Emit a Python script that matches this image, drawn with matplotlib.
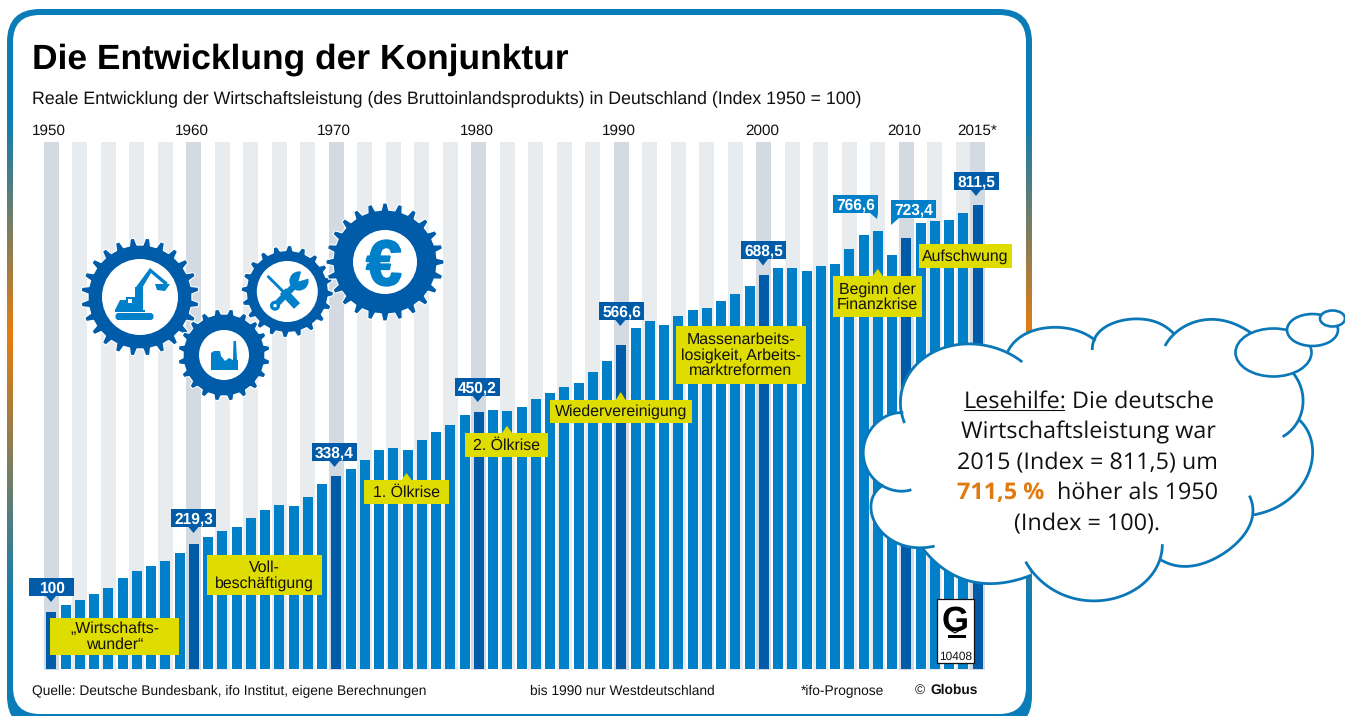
#!/usr/bin/env python3
"""Die Entwicklung der Konjunktur - Globus Grafik 10408 nachgebaut."""

import numpy as np
import matplotlib
matplotlib.use('Agg')
import matplotlib.pyplot as plt
import matplotlib.patheffects as pe
from matplotlib.colors import LinearSegmentedColormap
from matplotlib.patches import Circle, Ellipse, FancyBboxPatch, Polygon, Rectangle

plt.rcParams['font.family'] = ['Liberation Sans', 'DejaVu Sans']
plt.rcParams['text.hinting'] = 'none'

W, H = 1345, 716

# Daten
years = list(range(1950, 2016))
index_values = [
    100, 112, 120.7, 131, 141.7, 159, 171.4, 180, 189, 203,
    219.3, 231, 241, 248, 264, 278, 287, 285, 301, 323.5,
    338.4, 350, 365.5, 383, 386.5, 383, 400.5, 414.5, 427, 444,
    450.2, 453, 451, 458, 472, 482.7, 493, 500, 519, 538.6,
    566.6, 596, 608.6, 601.6, 617, 628, 631, 643.6, 656, 670,
    688.5, 701, 701, 696, 705, 708, 734.5, 759, 766.6, 723.4,
    754, 780, 783.5, 785, 797.5, 811.5,
]
tick_years = [1950, 1960, 1970, 1980, 1990, 2000, 2010, 2015]
tick_labels = ['1950', '1960', '1970', '1980', '1990', '2000', '2010', '2015*']
highlight_years = [1950, 1960, 1970, 1980, 1990, 2000, 2010, 2015]

title = 'Die Entwicklung der Konjunktur'
subtitle = ('Reale Entwicklung der Wirtschaftsleistung (des Bruttoinlandsprodukts) '
            'in Deutschland (Index 1950 = 100)')

# Farben
DARK = '#005ca9'
BLUE = '#0080c9'
YELLOW = '#dfdc00'
STRIPE_DARK = '#d3dae2'
STRIPE_LIGHT = '#e9ecef'
CLOUD = '#0a78b8'
ORANGE = '#e07b10'

# Pixelskala der Balken
PX_PER_YEAR = 14.25
X_1950 = 51.3
PX_PER_UNIT = 0.5718
Y_ZERO = 669


def add_frame(ax):
    """Rahmen mit Farbverlauf: Bild hinter abgerundetem Rechteck"""
    outer = FancyBboxPatch((7, 9), 1025, 720, boxstyle='round,pad=0,rounding_size=33',
                           fc='none', ec='none')
    ax.add_patch(outer)
    cmap = LinearSegmentedColormap.from_list('frame', [
        (0.0, '#0a7db8'), (115 / 716, '#0a7db8'), (335 / 716, '#e67e0e'),
        (610 / 716, '#0a7db8'), (1.0, '#0a7db8')])
    grad = np.linspace(0, 1, 716).reshape(-1, 1)
    im = ax.imshow(grad, cmap=cmap, extent=(0, W, H, 0), aspect='auto', origin='upper')
    im.set_clip_path(outer)
    ax.add_patch(FancyBboxPatch((13, 15), 1013, 699, boxstyle='round,pad=0,rounding_size=27',
                                fc='white', ec='none'))
    ax.set_xlim(0, W)
    ax.set_ylim(H, 0)


def plot_bars(fig):
    left, right, top, bottom = 40, 990, 142, 670
    ax = fig.add_axes([left / W, 1 - bottom / H, (right - left) / W, (bottom - top) / H])
    ax.patch.set_visible(False)
    ax.set_xlim(1950 + (left - X_1950) / PX_PER_YEAR, 1950 + (right - X_1950) / PX_PER_YEAR)
    y_min = (Y_ZERO - bottom) / PX_PER_UNIT
    y_max = (Y_ZERO - top) / PX_PER_UNIT
    ax.set_ylim(y_min, y_max)

    # Streifen im Hintergrund
    for year in years:
        if year in highlight_years:
            color = STRIPE_DARK
        elif year % 2 == 0:
            color = STRIPE_LIGHT
        else:
            continue
        ax.bar(year, y_max - y_min, bottom=y_min, width=15 / PX_PER_YEAR, color=color, zorder=1)

    colors = [DARK if y in highlight_years else BLUE for y in years]
    ax.bar(years, index_values, width=10 / PX_PER_YEAR, color=colors, zorder=2)

    for side in ax.spines.values():
        side.set_visible(False)
    ax.set_yticks([])
    ax.set_xticks([y - 0.14 if y != 2015 else y for y in tick_years])
    ax.set_xticklabels(tick_labels, fontsize=11, color='#111111')
    ax.tick_params(axis='x', bottom=False, top=False, labelbottom=False, labeltop=True, pad=-0.3)
    return ax


def value_label(ax, text, x0, y0, tip, color=DARK, corner=None):
    """Wertefeld mit Spitze, Koordinaten in Pixeln"""
    x1, y1 = x0 + 45, y0 + 18
    ax.add_patch(Rectangle((x0, y0), 45, 18, fc=color, ec='none', zorder=5))
    if corner == 'right':
        pts = [(x1 - 8, y1), (x1, y1), tip]
    elif corner == 'left':
        pts = [(x0, y1), (x0 + 8, y1), tip]
    else:
        pts = [(tip[0] - 5, y1), (tip[0] + 5, y1), tip]
    ax.add_patch(Polygon(pts, fc=color, ec='none', zorder=5))
    ax.text((x0 + x1) / 2, y1 - 3.5, text, color='white', fontsize=11.2, fontweight='bold',
            ha='center', va='baseline', zorder=6)


def note(ax, text, x0, y0, x1, y1, tip=None):
    """Gelbes Textfeld"""
    ax.add_patch(Rectangle((x0, y0), x1 - x0, y1 - y0, fc=YELLOW, ec='none', zorder=5))
    if tip is not None:
        ax.add_patch(Polygon([(tip[0] - 5, y0), (tip[0] + 5, y0), tip], fc=YELLOW, ec='none', zorder=5))
    ax.text((x0 + x1) / 2, (y0 + y1) / 2 + 0.5, text, color='#111111', fontsize=11.4,
            ha='center', va='center', linespacing=1.06, zorder=6)


def gear(ax, cx, cy, tip_r, root_r, hole_r, teeth, phase=0.0):
    """Zahnrad als Polygon"""
    pts = []
    step = 2 * np.pi / teeth
    for i in range(teeth):
        a = phase + i * step
        for da, r in [(-0.27, root_r), (-0.13, tip_r), (0.13, tip_r), (0.27, root_r)]:
            ang = a + da * step
            pts.append((cx + r * np.cos(ang), cy + r * np.sin(ang)))
    ax.add_patch(Polygon(pts, fc=DARK, ec='white', lw=0.8, zorder=3))
    ax.add_patch(Circle((cx, cy), hole_r, fc='white', ec='none', zorder=3.1))


def draw_icons(ax):
    gear(ax, 140, 297, 59, 52, 38, 24, 0.13)
    gear(ax, 224, 355, 46, 41, 25, 20, 0.16)
    gear(ax, 287.3, 291.5, 46, 41, 30.5, 20, 0.05)
    gear(ax, 385, 262, 59, 52, 32, 24, 0.0)

    # Bagger
    ax.add_patch(FancyBboxPatch((115.5, 313), 38, 7, boxstyle='round,pad=0,rounding_size=3',
                                fc=BLUE, ec='none', zorder=4))
    ax.add_patch(Polygon([(115, 310), (120, 300), (126, 300), (126, 297), (135, 297), (135, 287),
                          (143, 287), (143, 310)], fc=BLUE, ec='none', zorder=4))
    ax.add_patch(Polygon([(136, 287), (150, 268), (168, 283), (165, 285), (151, 273), (141, 290)],
                         fc=BLUE, ec='none', zorder=4))
    ax.add_patch(Polygon([(155, 284), (170, 284), (165, 291), (157, 290)], fc=BLUE, ec='none', zorder=4))
    ax.add_patch(Rectangle((128, 299), 4, 4, fc='white', ec='none', zorder=4.1))
    ax.add_patch(Rectangle((115, 310), 30, 2, fc=BLUE, ec='none', zorder=4))

    # Fabrik
    ax.add_patch(Polygon([(211, 370), (211, 353), (214, 351), (220, 351), (221, 356), (225, 361),
                          (229, 358), (233, 360), (233.5, 341), (236, 341), (237, 360), (238, 360),
                          (238, 370)], fc=BLUE, ec='none', zorder=4))

    # Schraubenzieher und Schluessel
    ax.plot([268.3, 283.3], [276.7, 291.7], color=BLUE, lw=2.1, solid_capstyle='round', zorder=4)
    ax.plot([283, 297], [291, 306], color=BLUE, lw=6, solid_capstyle='butt', zorder=4)
    ax.plot([275, 296.7], [305.7, 283.3], color=BLUE, lw=4.6, solid_capstyle='butt', zorder=4.2)
    ax.add_patch(Circle((275, 305.7), 5, fc=BLUE, ec='none', zorder=4.2))
    ax.add_patch(Circle((275, 305.7), 1.7, fc='white', ec='none', zorder=4.3))
    ax.add_patch(Circle((299, 281), 9.6, fc=BLUE, ec='none', zorder=4.2))
    ax.add_patch(Polygon([(298.5, 281.5), (302, 268), (314, 277)], fc='white', ec='none', zorder=4.3))

    # Euro
    ax.text(384, 285, '€', color=BLUE, fontsize=46, fontweight='bold', ha='center', va='baseline',
            path_effects=[pe.withStroke(linewidth=1.5, foreground=BLUE)], zorder=4)


def smooth(points, n=60):
    p = np.array(points, dtype=float)
    seg = np.hypot(*np.diff(p, axis=0).T)
    t = np.concatenate([[0], np.cumsum(seg)]) / seg.sum()
    deg = min(4, len(p) - 1)
    tt = np.linspace(0, 1, n)
    return np.column_stack([np.polyval(np.polyfit(t, p[:, 0], deg), tt),
                            np.polyval(np.polyfit(t, p[:, 1], deg), tt)])


def draw_cloud(ax):
    lobes = [
        [(193, 398), (183, 340), (215, 235), (300, 178), (400, 165), (490, 180), (547, 217)],
        [(503, 185), (560, 130), (650, 112), (720, 125), (767, 152)],
        [(757, 180), (770, 135), (830, 95), (900, 88), (960, 100), (1000, 130)],
        [(975, 168), (1010, 125), (1070, 95), (1130, 88), (1190, 105), (1235, 130)],
        [(1360, 250), (1385, 300), (1388, 350), (1370, 400), (1328, 440)],
        [(1378, 390), (1410, 440), (1418, 500), (1395, 570), (1330, 640), (1238, 675)],
        [(1228, 617), (1238, 680), (1215, 730), (1150, 790), (1060, 828), (1000, 825), (960, 808)],
        [(967, 763), (955, 820), (900, 890), (820, 925), (750, 932), (670, 915), (600, 870), (557, 815)],
        [(575, 855), (510, 875), (440, 880), (350, 860), (285, 815), (250, 778)],
        [(284, 768), (220, 773), (150, 745), (105, 700), (92, 660), (100, 620), (130, 585)],
        [(214, 600), (170, 600), (120, 585), (80, 535), (70, 480), (90, 420), (130, 385), (190, 368)],
    ]
    curves = [smooth([(840 + x / 3, 290 + y / 3) for x, y in lobe]) for lobe in lobes]
    ax.add_patch(Polygon(np.vstack(curves), fc='white', ec='none', zorder=7))
    for c in curves:
        ax.plot(c[:, 0], c[:, 1], color=CLOUD, lw=2.0, solid_capstyle='butt', zorder=8)
    for cx, cy, w, h in [(1273.5, 352.5, 76, 48), (1312.5, 330, 51, 32), (1332.5, 318.5, 25, 16)]:
        ax.add_patch(Ellipse((cx, cy), w, h, fc='white', ec=CLOUD, lw=1.9, zorder=8))

    font = dict(family=['Open Sans', 'DejaVu Sans'], fontsize=16.8, color='#111111', va='baseline', zorder=9)
    ax.text(964, 408, 'Lesehilfe:', ha='left', **font)
    ax.plot([964, 1064], [409.8, 409.8], color='#111111', lw=0.8, zorder=9)
    ax.text(1072, 408, 'Die deutsche', ha='left', **font)
    ax.text(1088, 438, 'Wirtschaftsleistung war', ha='center', **font)
    ax.text(1087, 469, '2015 (Index = 811,5) um', ha='center', **font)
    ax.text(957, 499, '711,5 %', ha='left', family=['Open Sans', 'DejaVu Sans'], fontsize=16.8,
            fontweight='bold', color=ORANGE, va='baseline', zorder=9)
    ax.text(1057, 499, 'höher als 1950', ha='left', **font)
    ax.text(1087.5, 530, '(Index = 100).', ha='center', **font)


def draw_logo(ax):
    ax.add_patch(Rectangle((936.7, 599.3), 37.6, 64, fc='white', ec='#111111', lw=0.9, zorder=5))
    ax.text(955, 631, 'G', fontsize=25, fontweight='bold', color='black', ha='center', va='baseline', zorder=6)
    ax.plot([950, 955, 960], [630, 633, 630], color='black', lw=0.8, zorder=6)
    ax.add_patch(Rectangle((948, 634.5), 18, 3.5, fc='black', ec='none', zorder=6))
    ax.text(955.5, 660, '10408', fontsize=8.6, color='#111111', ha='center', va='baseline', zorder=6)


def main():
    fig = plt.figure(figsize=(W / 100, H / 100), dpi=100, facecolor='white')

    bg = fig.add_axes([0, 0, 1, 1], zorder=0)
    bg.axis('off')
    add_frame(bg)

    chart = plot_bars(fig)
    chart.set_zorder(1)

    fg = fig.add_axes([0, 0, 1, 1], zorder=2)
    fg.set_xlim(0, W)
    fg.set_ylim(H, 0)
    fg.axis('off')

    fg.text(32, 69, title, fontsize=25.5, fontweight='bold', color='black', va='baseline')
    fg.text(32, 103, subtitle, fontsize=12.8, color='#111111', va='baseline')

    draw_icons(fg)

    value_label(fg, '100', 29, 578, (51, 602))
    value_label(fg, '219,3', 171, 509, (193.5, 533))
    value_label(fg, '338,4', 312, 443, (334.5, 467))
    value_label(fg, '450,2', 455, 378, (477.7, 402))
    value_label(fg, '566,6', 599, 302, (620.3, 326))
    value_label(fg, '688,5', 741, 241, (763, 265.5))
    value_label(fg, '766,6', 833, 195, (877, 219), color=BLUE, corner='right')
    value_label(fg, '723,4', 891, 200, (891, 225), color=BLUE, corner='left')
    value_label(fg, '811,5', 954, 172, (976, 196))

    note(fg, '„Wirtschafts-\nwunder“', 50, 618, 179, 655)
    note(fg, 'Voll-\nbeschäftigung', 207, 555, 322, 595)
    note(fg, '1. Ölkrise', 364, 480, 449, 504, tip=(406.5, 473))
    note(fg, '2. Ölkrise', 465, 433, 548, 457, tip=(507, 425.7))
    note(fg, 'Wiedervereinigung', 550, 400, 692, 423, tip=(620.7, 392))
    note(fg, 'Massenarbeits-\nlosigkeit, Arbeits-\nmarktreformen', 676, 326, 806, 384)
    note(fg, 'Beginn der\nFinanzkrise', 833, 276, 922, 317, tip=(877.7, 268.7))
    note(fg, 'Aufschwung', 919, 244, 1012, 268)

    draw_logo(fg)

    foot = dict(fontsize=9.9, color='#111111', va='baseline')
    fg.text(32, 695, 'Quelle: Deutsche Bundesbank, ifo Institut, eigene Berechnungen', **foot)
    fg.text(530, 695, 'bis 1990 nur Westdeutschland', **foot)
    fg.text(801, 695, '*ifo-Prognose', **foot)
    fg.text(915, 694, '©', **foot)
    fg.text(930, 694, 'Globus', fontsize=9.9, fontweight='bold', color='#111111', va='baseline')

    draw_cloud(fg)

    fig.savefig('out.png', dpi=100)


if __name__ == "__main__":
    main()
